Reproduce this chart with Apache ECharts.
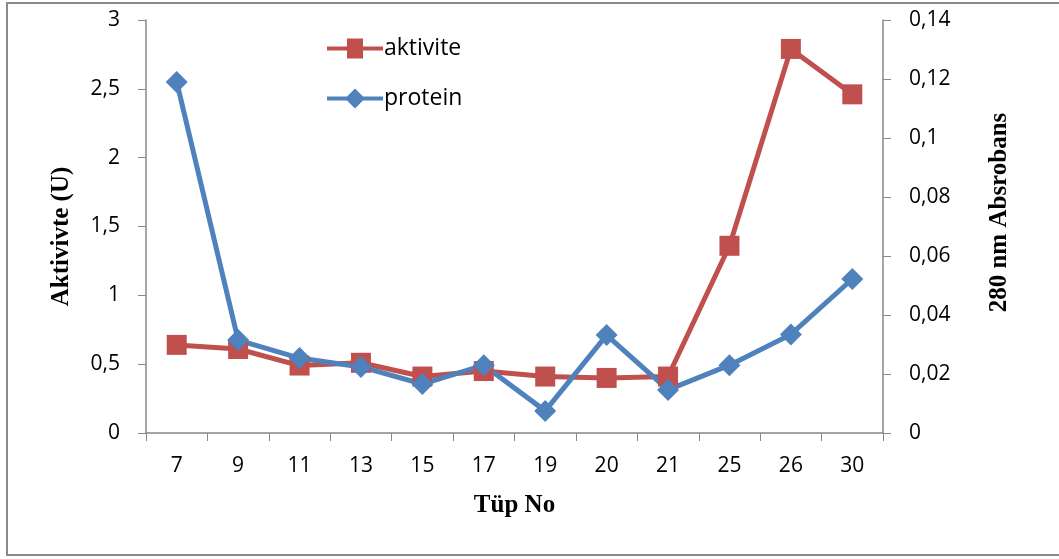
<!DOCTYPE html>
<html><head><meta charset="utf-8">
<script src="https://cdn.jsdelivr.net/npm/echarts@6/dist/echarts.min.js"></script>
<style>html,body{margin:0;padding:0;background:#fff}#c{width:1059px;height:559px}</style>
</head><body><div id="c"></div>
<script>
var categories = ['7','9','11','13','15','17','19','20','21','25','26','30'];
var aktivite = [0.64,0.61,0.49,0.51,0.41,0.45,0.41,0.40,0.41,1.36,2.79,2.46];
var protein = [0.119,0.0315,0.0254,0.0224,0.0166,0.023,0.0075,0.0332,0.0146,0.023,0.0334,0.0522];
var leftTicks = [0,0.5,1,1.5,2,2.5,3];
var rightTicks = [0,0.02,0.04,0.06,0.08,0.1,0.12,0.14];

var chart = echarts.init(document.getElementById('c'));
var comma = function(v){ return String(+v.toFixed(4)).replace('.', ','); };
var axisLine = {show:true, lineStyle:{color:'#888', width:1.5}};
var tickFont = {fontFamily:'Open Sans', fontSize:21, color:'#000'};
var nameFont = {fontFamily:'Liberation Serif', fontWeight:'bold', fontSize:25, color:'#000'};
chart.setOption({
  animation:false,
  graphic:[{type:'rect', shape:{x:7,y:3,width:1070,height:552}, style:{fill:'none', stroke:'#8a8a8a', lineWidth:2}}],
  legend:{
    orient:'vertical', left:322, top:32, itemWidth:56, itemHeight:20, itemGap:27,
    textStyle:{fontFamily:'Open Sans', fontSize:23, color:'#000', padding:[0,0,0,-4]},
    data:[{name:'aktivite', icon:'path://M0,8 L20,8 L20,0 L36,0 L36,8 L56,8 L56,12 L36,12 L36,20 L20,20 L20,12 L0,12 Z'},
          {name:'protein', icon:'path://M0,8 L20,8 L28,0 L36,8 L56,8 L56,12 L36,12 L28,20 L20,12 L0,12 Z'}]
  },
  grid:{left:146, right:176, top:20, bottom:126},
  xAxis:{
    type:'category', data:categories, boundaryGap:true,
    name:'Tüp No', nameLocation:'middle', nameGap:60, nameTextStyle:nameFont,
    axisLine:axisLine, axisTick:{show:true, length:8, lineStyle:{color:'#888'}},
    axisLabel:Object.assign({margin:23}, tickFont)
  },
  yAxis:[{
    type:'value', min:0, max:3, interval:0.5, position:'left',
    name:'Aktivivte (U)', nameLocation:'middle', nameGap:72,
    nameTextStyle:Object.assign({padding:[0,20,0,0]}, nameFont),
    axisLine:axisLine, axisTick:{show:true, length:8, lineStyle:{color:'#888'}},
    splitLine:{show:false},
    axisLabel:Object.assign({margin:26, formatter:comma}, tickFont)
  },{
    type:'value', min:0, max:0.14, interval:0.02, position:'right',
    name:'280 nm Absrobans', nameLocation:'middle', nameGap:104,
    nameTextStyle:Object.assign({padding:[0,0,0,28]}, nameFont),
    axisLine:axisLine, axisTick:{show:true, length:8, lineStyle:{color:'#888'}},
    splitLine:{show:false},
    axisLabel:Object.assign({margin:26, formatter:comma}, tickFont)
  }],
  series:[{
    name:'aktivite', type:'line', yAxisIndex:0, data:aktivite,
    symbol:'rect', symbolSize:20, lineStyle:{color:'#C0504D', width:5},
    itemStyle:{color:'#C0504D'}
  },{
    name:'protein', type:'line', yAxisIndex:1, data:protein,
    symbol:'diamond', symbolSize:[22,22], lineStyle:{color:'#4F81BD', width:5},
    itemStyle:{color:'#4F81BD'}
  }]
});
</script></body></html>
